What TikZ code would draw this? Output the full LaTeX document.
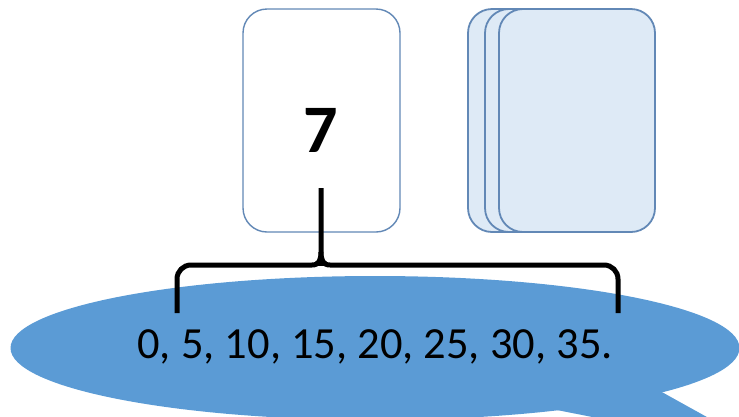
\documentclass[tikz,border=0pt]{standalone}
\usepackage{fontspec}
\setmainfont{Carlito}
\usetikzlibrary{shapes.geometric}
\definecolor{cardline}{RGB}{98,136,182}
\definecolor{cardfill}{RGB}{222,234,246}
\definecolor{bubblecol}{RGB}{91,155,213}
\tikzset{
  card/.style={draw=cardline, line width=1.4pt, rounded corners=24pt,
    minimum width=157pt, minimum height=223pt, inner sep=0pt},
  stackcard/.style={card, fill=cardfill, line width=1.8pt, minimum width=156pt},
  bracepath/.style={line width=5pt, black, rounded corners=14pt},
}
\begin{document}
\begin{tikzpicture}[x=1pt, y=-1pt]
\useasboundingbox (0,0) rectangle (739,416);
\clip (0,0) rectangle (739,416);
% cards
\node[card, fill=white] (card) at (321.5,120.5) {};
\node[font=\bfseries\fontsize{68}{68}\selectfont, inner sep=0pt] (seven) at (321,130) {7};
\node[stackcard] (back) at (546,120.5) {};
\node[stackcard] (mid) at (563,120.5) {};
\node[stackcard] (front) at (577,120.5) {};
% bubble
\node[ellipse, fill=bubblecol, minimum width=729pt, minimum height=144pt, inner sep=0pt] (bubble) at (375,348) {};
\coordinate (tailA) at (540,406.7);
\coordinate (tailB) at (660,391);
\coordinate (tailtip) at (770,452);
\fill[bubblecol] (tailA) -- (tailB) -- (tailtip) -- cycle;
\node[font=\fontsize{44.5}{44.5}\selectfont, anchor=base, inner sep=0pt] (nums) at (375,358) {0, 5, 10, 15, 20, 25, 30, 35.};
% brace
\coordinate (bl) at (177,313);
\coordinate (br) at (618,313);
\coordinate (btip) at (321,188);
\draw[bracepath] (bl) -- (177,265) -- (312,265);
\draw[bracepath] (br) -- (618,265) -- (330,265);
\draw[line width=5pt] (312,265) .. controls (319,265) and (321,260) .. (321,252) -- (btip);
\draw[line width=5pt] (330,265) .. controls (323,265) and (321,260) .. (321,252);
\fill (318,262) rectangle (324,266);
\end{tikzpicture}
\end{document}
